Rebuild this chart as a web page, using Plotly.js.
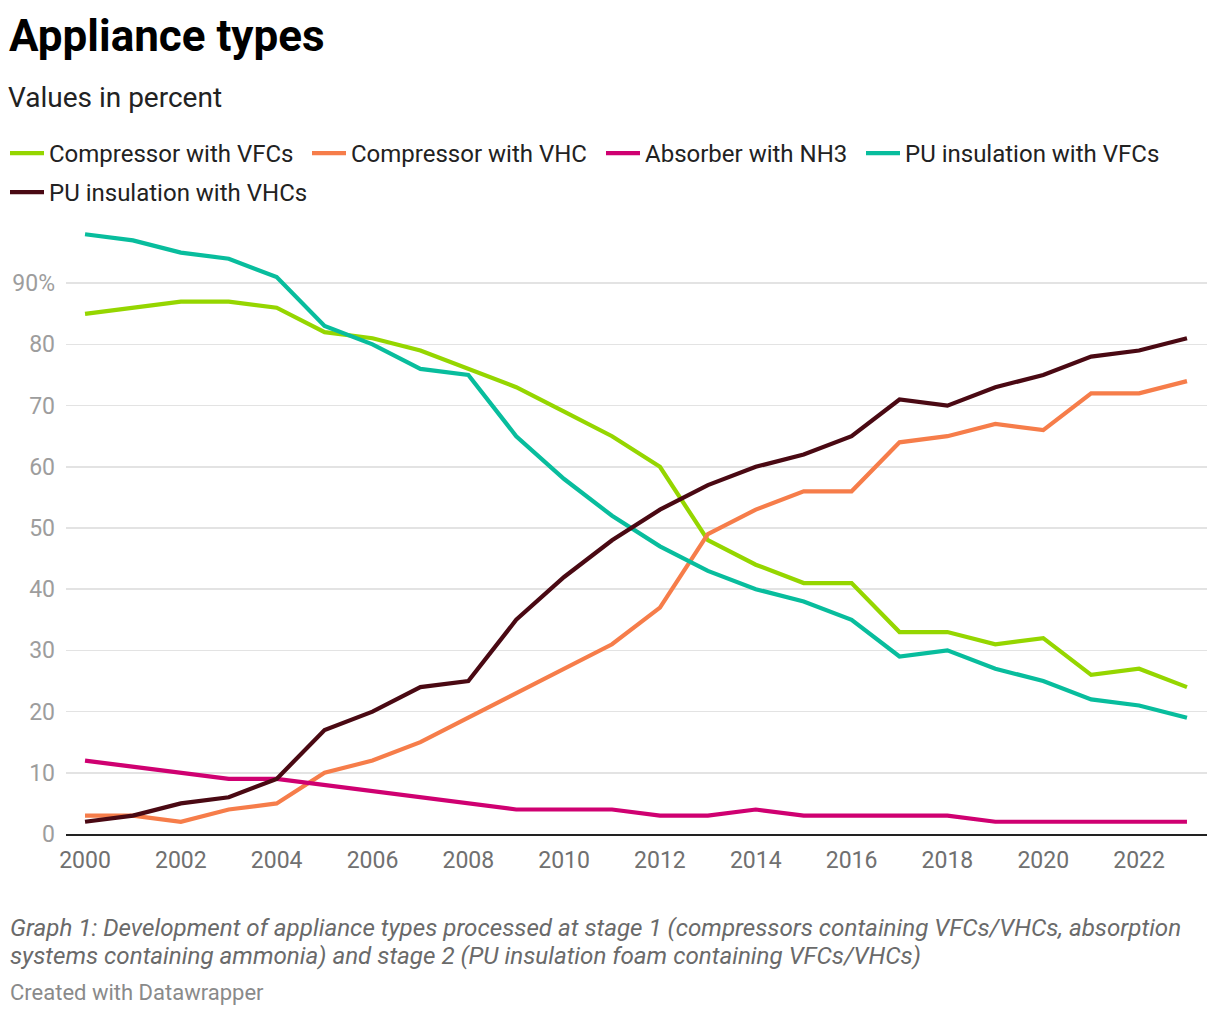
<!DOCTYPE html>
<html>
<head>
<meta charset="utf-8">
<script src="https://cdn.plot.ly/plotly-3.0.1.min.js"></script>
<style>
  html, body { margin: 0; padding: 0; background: #fff; }
  #chart { width: 1220px; height: 1016px; }
</style>
</head>
<body>
<div id="chart"></div>
<script>
const years = [2000,2001,2002,2003,2004,2005,2006,2007,2008,2009,2010,2011,2012,2013,2014,2015,2016,2017,2018,2019,2020,2021,2022,2023];
const compressorVFC = [85,86,87,87,86,82,81,79,76,73,69,65,60,48,44,41,41,33,33,31,32,26,27,24];
const compressorVHC = [3,3,2,4,5,10,12,15,19,23,27,31,37,49,53,56,56,64,65,67,66,72,72,74];
const absorberNH3 = [12,11,10,9,9,8,7,6,5,4,4,4,3,3,4,3,3,3,3,2,2,2,2,2];
const puVFC = [98,97,95,94,91,83,80,76,75,65,58,52,47,43,40,38,35,29,30,27,25,22,21,19];
const puVHC = [2,3,5,6,9,17,20,24,25,35,42,48,53,57,60,62,65,71,70,73,75,78,79,81];

const seriesNames = ["Compressor with VFCs","Compressor with VHC","Absorber with NH3","PU insulation with VFCs","PU insulation with VHCs"];
const seriesValues = [compressorVFC, compressorVHC, absorberNH3, puVFC, puVHC];
const seriesColors = ["#95d600","#f67d4a","#cf0071","#08bd9d","#4a0913"];
const legendIds = ["legend","legend2","legend3","legend4","legend5"];

const yTickVals = [0,10,20,30,40,50,60,70,80,90];
const yTickText = ["0","10","20","30","40","50","60","70","80","90%"];
const xTickVals = [2000,2002,2004,2006,2008,2010,2012,2014,2016,2018,2020,2022];

const traces = seriesNames.map((name, i) => ({
  type: 'scatter', mode: 'lines', name: name,
  x: years, y: seriesValues[i],
  legend: legendIds[i],
  line: { color: seriesColors[i], width: 4.2, shape: 'linear' },
  hoverinfo: 'skip'
}));

const H = 1016, W = 1220;
const PW = 1141, PH = 612;
const px2py = y => (834 - y) / PH;
const legendFont = { family: 'Roboto, sans-serif', size: 24, color: '#222' };
// legend entry anchors (line start x, row top y) in pixels
const legendPos = [[10, 131], [312, 131], [606, 131], [866, 131], [10, 170]];

const layout = {
  width: W, height: H,
  paper_bgcolor: '#fff', plot_bgcolor: '#fff',
  font: { family: 'Roboto, sans-serif', color: '#222' },
  margin: { l: 66, r: 13, t: 222, b: 182, pad: 0 },
  title: {
    text: '<b>Appliance types</b>',
    font: { family: 'Roboto, sans-serif', size: 44, color: '#000' },
    xref: 'container', x: 9 / W, xanchor: 'left',
    yref: 'container', y: 1 - 36 / H, yanchor: 'middle'
  },
  showlegend: true,
  xaxis: {
    range: [1999.603, 2023.418],
    tickvals: xTickVals,
    ticks: '', showgrid: false, zeroline: false,
    showline: true, linecolor: '#222', linewidth: 2,
    tickfont: { family: 'Roboto, sans-serif', size: 23, color: '#707070' },
    ticklabelstandoff: 4,
    fixedrange: true
  },
  yaxis: {
    range: [0, 100],
    tickvals: yTickVals, ticktext: yTickText,
    ticks: '', showgrid: true, gridcolor: '#e3e3e3', gridwidth: 1.5,
    zeroline: false, showline: false,
    tickfont: { family: 'Roboto, sans-serif', size: 23, color: '#9d9d9d' },
    ticklabelstandoff: 10,
    fixedrange: true
  },
  annotations: [
    {
      text: 'Values in percent', xref: 'paper', yref: 'paper',
      x: -60 / PW, y: px2py(97), xanchor: 'left', yanchor: 'middle',
      showarrow: false, font: { family: 'Roboto, sans-serif', size: 28, color: '#222' }
    },
    {
      text: '<i>Graph 1: Development of appliance types processed at stage 1 (compressors containing VFCs/VHCs, absorption</i>',
      xref: 'paper', yref: 'paper',
      x: -58 / PW, y: px2py(928), xanchor: 'left', yanchor: 'middle', align: 'left',
      showarrow: false, font: { family: 'Roboto, sans-serif', size: 24.2, color: '#6a6a6a' }
    },
    {
      text: '<i>systems containing ammonia) and stage 2 (PU insulation foam containing VFCs/VHCs)</i>',
      xref: 'paper', yref: 'paper',
      x: -58 / PW, y: px2py(956), xanchor: 'left', yanchor: 'middle', align: 'left',
      showarrow: false, font: { family: 'Roboto, sans-serif', size: 24.2, color: '#6a6a6a' }
    },
    {
      text: 'Created with Datawrapper', xref: 'paper', yref: 'paper',
      x: -58 / PW, y: px2py(992), xanchor: 'left', yanchor: 'middle',
      showarrow: false, font: { family: 'Roboto, sans-serif', size: 22, color: '#8a8a8a' }
    }
  ]
};
legendIds.forEach((id, i) => {
  layout[id] = {
    orientation: 'h',
    xref: 'container', x: (legendPos[i][0] - 5) / W, xanchor: 'left',
    yref: 'container', y: 1 - legendPos[i][1] / H, yanchor: 'top',
    font: legendFont, itemwidth: 34,
    bgcolor: 'rgba(0,0,0,0)'
  };
});
Plotly.newPlot('chart', traces, layout, { displayModeBar: false, staticPlot: true });
</script>
</body>
</html>
